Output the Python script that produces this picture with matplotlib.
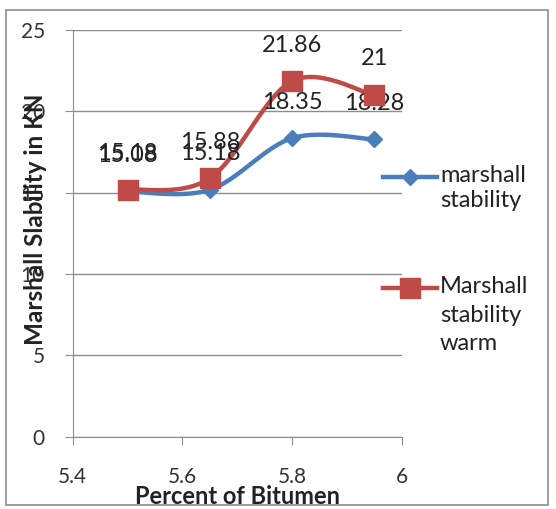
import matplotlib
matplotlib.use("Agg")
import matplotlib.pyplot as plt
import numpy as np
from matplotlib.lines import Line2D
from matplotlib.patches import Rectangle

plt.rcParams['font.family'] = ['Lato', 'DejaVu Sans']

bitumen = [5.5, 5.65, 5.8, 5.95]
stability = [15.08, 15.18, 18.35, 18.28]
stability_warm = [15.18, 15.88, 21.86, 21.0]
labels_blue = ['15.08', '15.18', '18.35', '18.28']
labels_red = ['15.18', '15.88', '21.86', '21']

blue = '#4A7EBB'
red = '#BE4B48'
grey = '#8C8C8C'
ink = '#222222'


def smooth(x, y, n=40):
    # Bezier smoothing like spreadsheet "smoothed line"
    p = np.column_stack([x, y]).astype(float)
    out = []
    for i in range(len(p) - 1):
        p0 = p[max(i - 1, 0)]
        p1 = p[i]
        p2 = p[i + 1]
        p3 = p[min(i + 2, len(p) - 1)]
        c1 = p1 + (p2 - p0) / 6
        c2 = p2 - (p3 - p1) / 6
        t = np.linspace(0, 1, n)[:, None]
        seg = ((1 - t) ** 3 * p1 + 3 * (1 - t) ** 2 * t * c1
               + 3 * (1 - t) * t ** 2 * c2 + t ** 3 * p2)
        out.append(seg)
    out = np.vstack(out)
    return out[:, 0], out[:, 1]


fig = plt.figure(figsize=(5.56, 5.09), dpi=100)
ax = fig.add_axes([0.1308, 0.142, 0.5917, 0.799])

for xs, ys, col, mk, ms in [(bitumen, stability, blue, 'D', 8),
                            (bitumen, stability_warm, red, 's', 14)]:
    sx, sy = smooth(xs, ys)
    ax.plot(sx, sy, color=col, lw=3.2, zorder=3)
    ax.plot(xs, ys, ls='none', marker=mk, ms=ms, color=col, zorder=4)

for xv, yv, lab in zip(bitumen, stability, labels_blue):
    ax.annotate(lab, (xv, yv), xytext=(0, 26), textcoords='offset points',
                ha='center', va='center', fontsize=17, color=ink)
for xv, yv, lab in zip(bitumen, stability_warm, labels_red):
    ax.annotate(lab, (xv, yv), xytext=(0, 26), textcoords='offset points',
                ha='center', va='center', fontsize=17, color=ink)

ax.set_xlim(5.4, 6.0)
ax.set_ylim(0, 25)
ax.set_xticks([5.4, 5.6, 5.8, 6.0])
ax.set_xticklabels(['5.4', '5.6', '5.8', '6'])
ax.set_yticks([0, 5, 10, 15, 20, 25])
ax.yaxis.grid(True, color=grey, lw=1)
ax.set_axisbelow(True)
for s in ['top', 'right']:
    ax.spines[s].set_visible(False)
for s in ['left', 'bottom']:
    ax.spines[s].set_color(grey)
ax.tick_params(axis='both', colors=grey, length=6, labelsize=15,
               labelcolor='#333333')
ax.tick_params(axis='x', pad=16)
ax.tick_params(axis='y', pad=14)

fig.text(0.063, 0.57, 'Marshall Slability in KN', rotation=90, ha='center',
         va='center', fontsize=17.5, fontweight='bold', color=ink)
fig.text(0.428, 0.025, 'Percent of Bitumen', ha='center', va='center',
         fontsize=17, fontweight='bold', color=ink)

# legend drawn by hand
W, H = 556, 509
for yy, col, mk, ms, txt, lsp in [
        (177, blue, 'D', 8, 'marshall\nstability', 1.25),
        (288, red, 's', 14, 'Marshall\nstability\nwarm', 1.45)]:
    fig.add_artist(Line2D([383 / W, 437 / W], [1 - yy / H, 1 - yy / H],
                          color=col, lw=3.2, transform=fig.transFigure))
    fig.add_artist(Line2D([410 / W], [1 - yy / H], color=col, marker=mk,
                          ms=ms, transform=fig.transFigure))
    fig.text(440 / W, 1 - (yy - 12) / H, txt, ha='left', va='top',
             fontsize=17, color=ink, linespacing=lsp)

fig.add_artist(Rectangle((6 / W, 1 - 505 / H), 542 / W, 495 / H,
                         fill=False, ec=grey, lw=1.2,
                         transform=fig.transFigure))

fig.savefig('out.png', dpi=100)
